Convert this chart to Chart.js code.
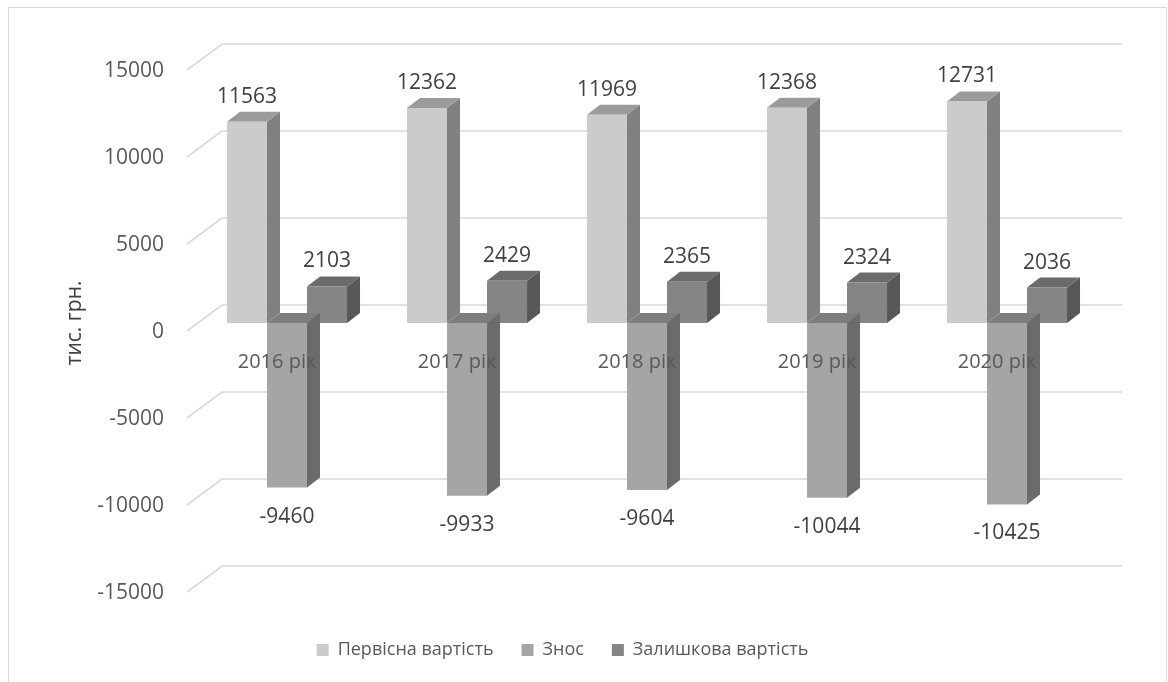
<!DOCTYPE html>
<html lang="uk">
<head>
<meta charset="utf-8">
<title>Основні засоби, тис. грн.</title>
<script src="https://cdn.jsdelivr.net/npm/chart.js@4/dist/chart.umd.min.js"></script>
<style>
  html, body { margin: 0; padding: 0; background: #ffffff; }
  #wrap { width: 1168px; height: 682px; position: relative; }
</style>
</head>
<body>
<div id="wrap"><canvas id="chart" width="1168" height="682"></canvas></div>
<script>
// ---- data ----
const years = ['2016 рік', '2017 рік', '2018 рік', '2019 рік', '2020 рік'];
const initialCost = [11563, 12362, 11969, 12368, 12731];
const depreciation = [-9460, -9933, -9604, -10044, -10425];
const residualValue = [2103, 2429, 2365, 2324, 2036];
const seriesNames = ['Первісна вартість', 'Знос', 'Залишкова вартість'];
const yTicks = [-15000, -10000, -5000, 0, 5000, 10000, 15000];

// ---- look ----
const FONT = "'Open Sans', 'Noto Sans', sans-serif";
const frontColors = ['#cbcbcb', '#a5a5a5', '#858585'];
const sideColors  = ['#808080', '#6b6b6b', '#585858'];
const topColors   = ['#9b9b9b', '#7d7d7d', '#6b6b6b'];
const DEPTH_X = 13, DEPTH_Y = 10;          // bar depth (side / top faces)
const WALL_FRONT = { dx: -10, dy: 8 };     // floor edge in front of the bars
const WALL_BACK  = { dx: 25, dy: -18 };    // back wall behind the bars

// light frame around the whole chart
const frame = {
  id: 'frame',
  beforeDraw(chart) {
    const c = chart.ctx;
    c.save();
    c.strokeStyle = '#d9d9d9';
    c.lineWidth = 1;
    c.strokeRect(8.5, 7.5, 1158, 700);
    c.restore();
  }
};

// perspective grid lines: short slanted floor edge, then the back wall line
const wallGrid = {
  id: 'wallGrid',
  beforeDatasetsDraw(chart) {
    const c = chart.ctx, ys = chart.scales.y, a = chart.chartArea;
    c.save();
    c.strokeStyle = '#d9d9d9';
    c.lineWidth = 1.6;
    ys.ticks.forEach(t => {
      const py = ys.getPixelForValue(t.value);
      c.beginPath();
      c.moveTo(a.left + WALL_FRONT.dx, py + WALL_FRONT.dy);
      c.lineTo(a.left + WALL_BACK.dx, py + WALL_BACK.dy);
      c.lineTo(a.right + WALL_BACK.dx, py + WALL_BACK.dy);
      c.stroke();
    });
    c.restore();
  }
};

// side and top faces of each column, drawn just before its front face
const columns3d = {
  id: 'columns3d',
  beforeDatasetDraw(chart, args) {
    const c = chart.ctx, i = args.index;
    c.save();
    args.meta.data.forEach(bar => {
      const { x, y, base, width } = bar.getProps(['x', 'y', 'base', 'width'], true);
      const l = x - width / 2, r = x + width / 2;
      const up = Math.min(y, base), down = Math.max(y, base);
      c.fillStyle = sideColors[i];
      c.beginPath();
      c.moveTo(r, up); c.lineTo(r + DEPTH_X, up - DEPTH_Y);
      c.lineTo(r + DEPTH_X, down - DEPTH_Y); c.lineTo(r, down);
      c.closePath(); c.fill();
      c.fillStyle = topColors[i];
      c.beginPath();
      c.moveTo(l, up); c.lineTo(l + DEPTH_X, up - DEPTH_Y);
      c.lineTo(r + DEPTH_X, up - DEPTH_Y); c.lineTo(r, up);
      c.closePath(); c.fill();
    });
    c.restore();
  }
};

// value labels above positive columns and below negative ones
const valueLabels = {
  id: 'valueLabels',
  afterDraw(chart) {
    const c = chart.ctx;
    c.save();
    c.font = `21px ${FONT}`;
    c.fillStyle = '#404040';
    c.textAlign = 'center';
    c.textBaseline = 'middle';
    chart.data.datasets.forEach((ds, i) => {
      chart.getDatasetMeta(i).data.forEach((bar, j) => {
        const v = ds.data[j];
        const { x, y } = bar.getProps(['x', 'y'], true);
        c.fillText(String(v), x, v >= 0 ? y - 25 : y + 29);
      });
    });
    c.restore();
  }
};

new Chart(document.getElementById('chart'), {
  type: 'bar',
  data: {
    labels: years,
    datasets: [
      { label: seriesNames[0], data: initialCost,   backgroundColor: frontColors[0] },
      { label: seriesNames[1], data: depreciation,  backgroundColor: frontColors[1] },
      { label: seriesNames[2], data: residualValue, backgroundColor: frontColors[2] }
    ]
  },
  options: {
    responsive: false,
    animation: false,
    devicePixelRatio: 1,
    layout: { padding: { top: 62, right: 71, bottom: 13, left: 28 } },
    datasets: { bar: { categoryPercentage: 0.667, barPercentage: 1, borderWidth: 0 } },
    scales: {
      x: {
        position: { y: 0 },
        grid: { display: false, drawTicks: false },
        border: { display: false },
        ticks: {
          z: 1,
          color: '#595959',
          font: { family: FONT, size: 20 },
          padding: 27,
          labelOffset: -10,
          maxRotation: 0,
          autoSkip: false
        }
      },
      y: {
        min: -15000,
        max: 15000,
        afterBuildTicks(scale) { scale.ticks = yTicks.map(v => ({ value: v })); },
        afterFit(scale) { scale.width = 169; },
        grid: { display: false, drawTicks: false },
        border: { display: false },
        ticks: {
          color: '#595959',
          font: { family: FONT, size: 21 },
          padding: 33,
          labelOffset: 9,
          callback: v => String(v)
        },
        title: {
          display: true,
          text: 'тис. грн.',
          color: '#404040',
          font: { family: FONT, size: 21 },
          padding: { top: 34, bottom: 0 }
        }
      }
    },
    plugins: {
      tooltip: { enabled: false },
      legend: {
        position: 'bottom',
        title: { display: true, text: '', font: { size: 10 }, padding: { top: 17, bottom: 0 } },
        labels: {
          color: '#595959',
          font: { family: FONT, size: 18 },
          boxWidth: 12,
          boxHeight: 12,
          padding: 28
        }
      }
    }
  },
  plugins: [frame, wallGrid, columns3d, valueLabels]
});
</script>
</body>
</html>
